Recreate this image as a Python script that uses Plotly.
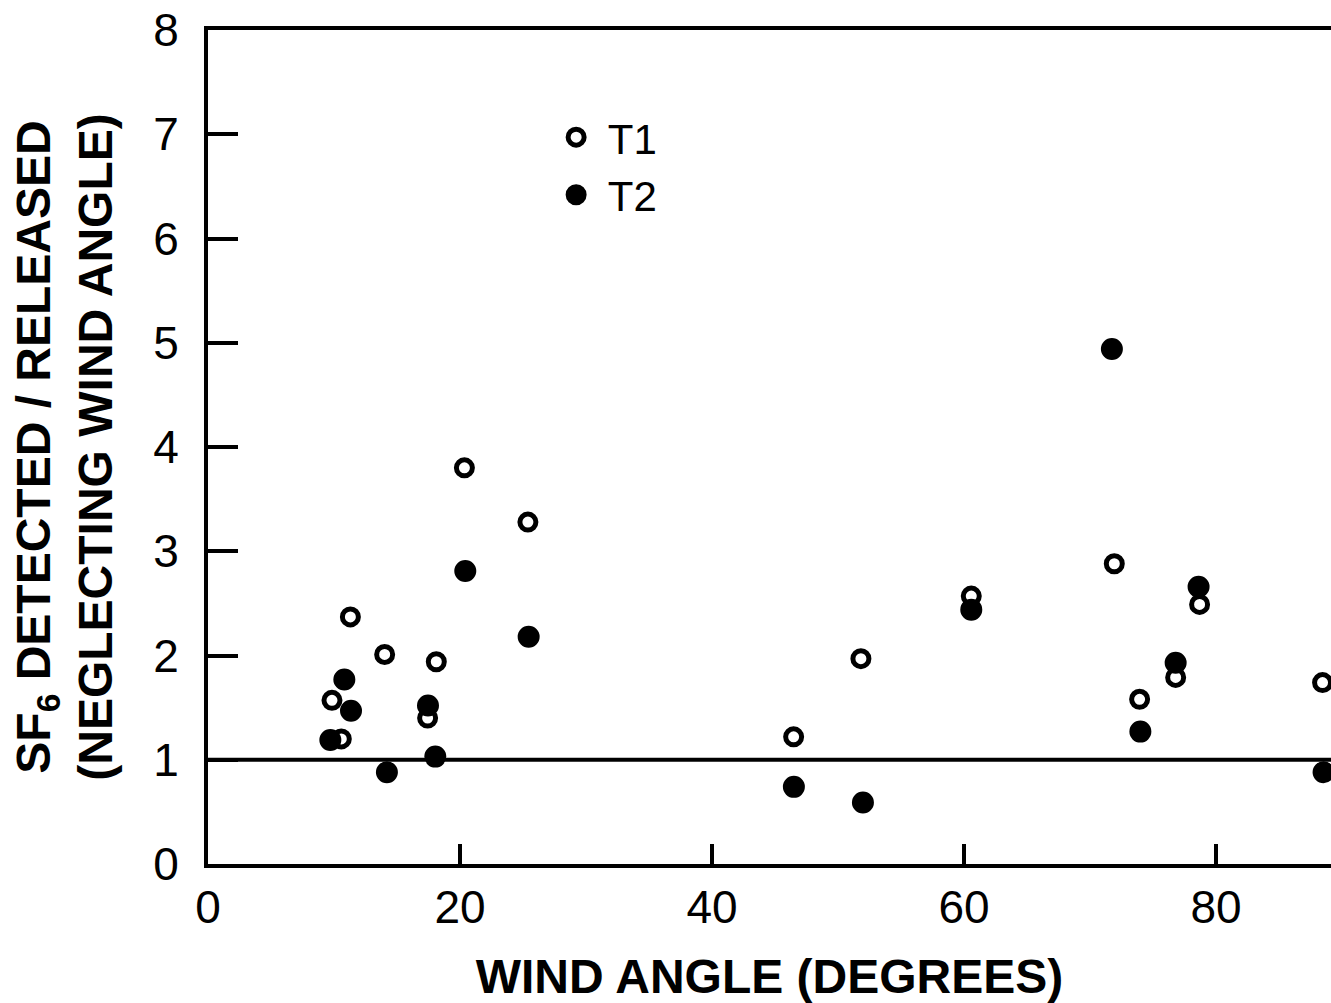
import plotly.graph_objects as go

# Wind angle (degrees) and SF6 detected/released ratio
t1_angle = [9.84, 10.58, 11.30, 14.02, 17.43, 18.12, 20.35, 25.39, 46.48, 51.82,
            60.58, 71.93, 73.94, 76.80, 78.70, 88.46]
t1_ratio = [1.57, 1.20, 2.37, 2.01, 1.40, 1.94, 3.80, 3.28, 1.22, 1.97,
            2.57, 2.88, 1.58, 1.79, 2.49, 1.74]

t2_angle = [9.71, 10.82, 11.35, 14.20, 17.46, 18.04, 20.42, 25.45, 46.50, 51.98,
            60.58, 71.74, 74.00, 76.80, 78.62, 88.54]
t2_ratio = [1.19, 1.77, 1.47, 0.88, 1.52, 1.03, 2.81, 2.18, 0.74, 0.59,
            2.44, 4.94, 1.27, 1.93, 2.66, 0.88]

x_ticks = [0, 20, 40, 60, 80]
y_ticks = [0, 1, 2, 3, 4, 5, 6, 7, 8]
reference_ratio = 1

FONT = "Liberation Sans"

fig = go.Figure()
fig.add_trace(go.Scatter(
    x=t1_angle, y=t1_ratio, mode="markers", name="\u00a0T1",
    marker=dict(symbol="circle", size=16, color="white",
                line=dict(color="black", width=5)),
))
fig.add_trace(go.Scatter(
    x=t2_angle, y=t2_ratio, mode="markers", name="\u00a0T2",
    marker=dict(symbol="circle", size=17, color="black",
                line=dict(color="black", width=5)),
))

fig.add_hline(y=reference_ratio, line=dict(color="black", width=4), layer="below")

fig.update_layout(
    width=1331, height=1003,
    margin=dict(l=208, r=0, t=30, b=139),
    paper_bgcolor="white", plot_bgcolor="white",
    font=dict(family=FONT, color="black", size=46),
    showlegend=True,
    legend=dict(x=0.31, y=0.912, xanchor="left", yanchor="top",
                bgcolor="rgba(0,0,0,0)", font=dict(size=42, family=FONT),
                itemsizing="trace", tracegroupgap=0),
    xaxis=dict(
        range=[0, 89.13], tickvals=x_ticks, ticktext=[str(v) for v in x_ticks],
        ticks="inside", ticklen=20, tickwidth=4, tickcolor="black",
        showline=True, linewidth=4, linecolor="black", mirror=True,
        showgrid=False, zeroline=False, ticklabelstandoff=0,
        tickfont=dict(size=46, family=FONT),
        title=dict(text="<b>WIND ANGLE (DEGREES)</b>", font=dict(size=48, family=FONT),
                   standoff=30),
    ),
    yaxis=dict(
        range=[0, 8], tickvals=y_ticks, ticktext=[str(v) for v in y_ticks],
        ticks="inside", ticklen=30, tickwidth=4, tickcolor="black",
        showline=True, linewidth=4, linecolor="black", mirror=False,
        showgrid=False, zeroline=False, ticklabelstandoff=16,
        tickfont=dict(size=46, family=FONT),
        title=dict(text="<b>SF<sub>6</sub> DETECTED / RELEASED<br>(NEGLECTING WIND ANGLE)</b>",
                   font=dict(size=48, family=FONT), standoff=26),
    ),
)

fig.write_html("out.html")
